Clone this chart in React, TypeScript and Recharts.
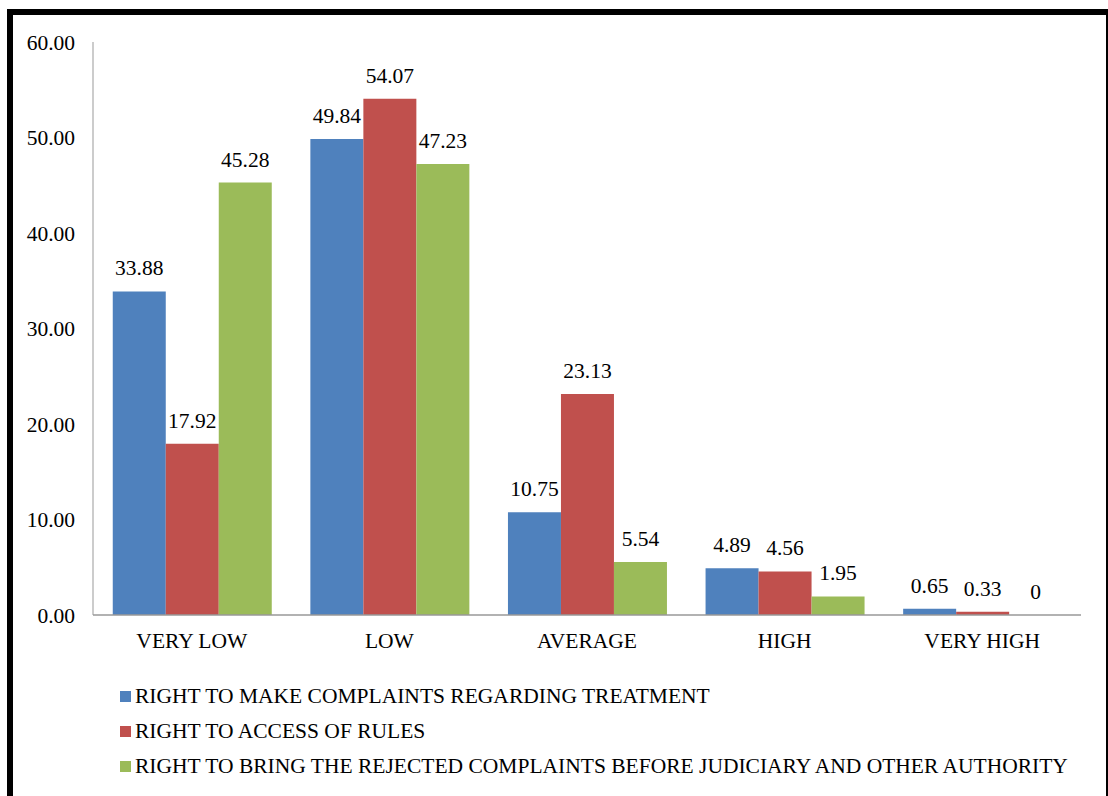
import React from 'react';
import { BarChart, Bar, XAxis, YAxis, Legend, LabelList } from 'recharts';

const categories = ['VERY LOW', 'LOW', 'AVERAGE', 'HIGH', 'VERY HIGH'];
const complaintsTreatment = [33.88, 49.84, 10.75, 4.89, 0.65];
const accessRules = [17.92, 54.07, 23.13, 4.56, 0.33];
const rejectedComplaints = [45.28, 47.23, 5.54, 1.95, 0];
const yTicks = [0, 10, 20, 30, 40, 50, 60];

const seriesNames = [
  'RIGHT TO MAKE COMPLAINTS REGARDING TREATMENT',
  'RIGHT TO ACCESS OF RULES',
  'RIGHT TO BRING THE REJECTED COMPLAINTS BEFORE JUDICIARY AND OTHER AUTHORITY',
];
const seriesColors = ['#4F81BD', '#C0504D', '#9BBB59'];

const chartData = categories.map((name, i) => ({
  name,
  a: complaintsTreatment[i],
  b: accessRules[i],
  c: rejectedComplaints[i],
}));

const FONT = '"Liberation Serif", "Times New Roman", serif';
const FS = 21.5;

const LegendBox = () => (
  <div style={{ fontFamily: FONT, fontSize: FS, color: '#000', lineHeight: '35px' }}>
    {seriesNames.map((n, i) => (
      <div key={n} style={{ display: 'flex', alignItems: 'center', whiteSpace: 'nowrap' }}>
        <span style={{ width: 11, height: 11, background: seriesColors[i], display: 'inline-block', marginRight: 4 }} />
        <span>{n}</span>
      </div>
    ))}
  </div>
);

// draws the value above the bar, including zero values
const ValueLabel = (props: any) => {
  const { x, y, width, value } = props;
  if (value === undefined || value === null) return null;
  return (
    <text
      x={Number(x) + Number(width) / 2}
      y={Number(y) - 16}
      textAnchor="middle"
      fill="#000"
      fontSize={FS}
      fontFamily={FONT}
    >
      {value}
    </text>
  );
};

export default function App() {
  return (
    <div style={{ position: 'absolute', left: 0, top: 0, width: 1108, height: 796, background: '#fff', overflow: 'hidden' }}>
      {/* frame */}
      <div style={{ position: 'absolute', left: 7, top: 9, width: 1101, height: 6, background: '#000' }} />
      <div style={{ position: 'absolute', left: 7, top: 9, width: 6, height: 787, background: '#000' }} />
      <div style={{ position: 'absolute', left: 1106, top: 9, width: 2, height: 787, background: '#000' }} />

      <div style={{ position: 'absolute', left: 0, top: 0 }}>
        <BarChart
          width={1108}
          height={796}
          data={chartData}
          margin={{ top: 42, right: 27, left: 13, bottom: 151 }}
          barGap={0}
          barCategoryGap="10%"
        >
          <XAxis
            dataKey="name"
            axisLine={{ stroke: '#999', strokeWidth: 1.5 }}
            tickLine={false}
            tickMargin={12}
            height={30}
            tick={{ fill: '#000', fontSize: FS, fontFamily: FONT }}
          />
          <YAxis
            domain={[0, 60]}
            ticks={yTicks}
            width={80}
            axisLine={{ stroke: '#999', strokeWidth: 1 }}
            tickLine={false}
            tickMargin={12}
            tickFormatter={(v: number) => v.toFixed(2)}
            tick={{ fill: '#000', fontSize: FS, fontFamily: FONT }}
          />
          <Legend
            layout="horizontal"
            verticalAlign="middle"
            align="center"
            content={<LegendBox />}
            wrapperStyle={{ left: 120, top: 679, width: 980, height: 110 }}
          />
          <Bar dataKey="a" name={seriesNames[0]} fill={seriesColors[0]} isAnimationActive={false}>
            <LabelList dataKey="a" content={ValueLabel} />
          </Bar>
          <Bar dataKey="b" name={seriesNames[1]} fill={seriesColors[1]} isAnimationActive={false}>
            <LabelList dataKey="b" content={ValueLabel} />
          </Bar>
          <Bar dataKey="c" name={seriesNames[2]} fill={seriesColors[2]} minPointSize={0.01} isAnimationActive={false}>
            <LabelList dataKey="c" content={ValueLabel} />
          </Bar>
        </BarChart>
      </div>
    </div>
  );
}
